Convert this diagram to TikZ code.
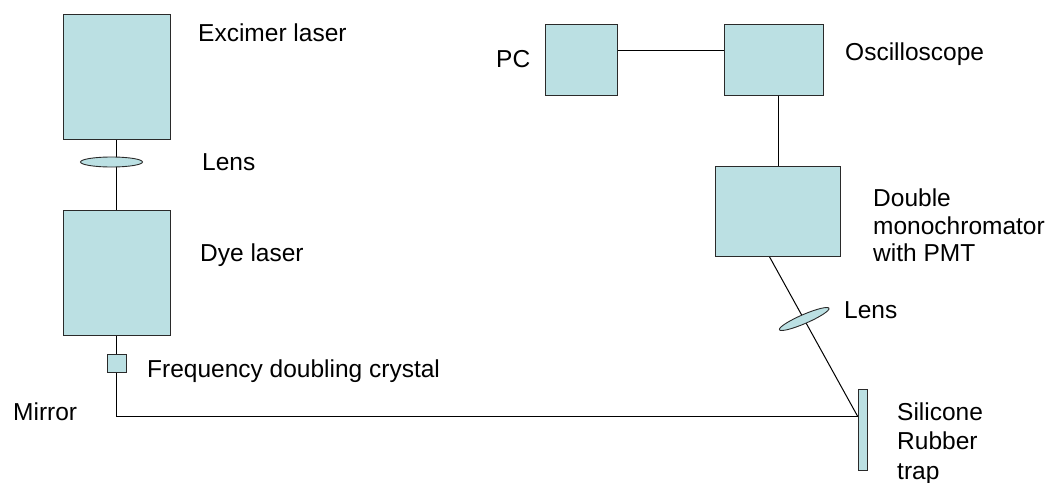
\documentclass[tikz,border=0pt]{standalone}
\usepackage{fontspec}
\setmainfont{Liberation Sans}
\usetikzlibrary{shapes.geometric, backgrounds}

\begin{document}
\begin{tikzpicture}[x=1pt, y=-1pt,
    box/.style={draw=borderColour, fill=fillColour, line width=0.9pt, inner sep=0pt},
    lens/.style={ellipse, draw=borderColour, fill=fillColour, line width=0.9pt, inner sep=0pt},
    txt/.style={anchor=base west, inner sep=0pt, font=\fontsize{24.5}{28}\selectfont},
    beam/.style={line width=1pt}]

    \definecolor{borderColour}{HTML}{2A2A2A}
    \definecolor{fillColour}{HTML}{BBE0E3}

    % Fix the page size
    \useasboundingbox (0,0) rectangle (1051,482);

    % Draw the instrument boxes
    \node[box, minimum width=107pt, minimum height=125pt] (excimer) at (116.5,76.5) {};
    \node[box, minimum width=107pt, minimum height=125pt] (dye) at (116.5,273.3) {};
    \node[box, minimum width=19pt, minimum height=18pt] (crystal) at (116.5,363) {};
    \node[box, minimum width=72pt, minimum height=71pt] (pc) at (581.3,59.5) {};
    \node[box, minimum width=99pt, minimum height=71pt] (osc) at (773.8,59.5) {};
    \node[box, minimum width=125pt, minimum height=90pt] (mono) at (778.3,211) {};
    \node[box, minimum width=9.4pt, minimum height=81pt] (trap) at (863,429.5) {};

    % Draw the lenses
    \node[lens, minimum width=62pt, minimum height=10pt] (lensA) at (111.5,162) {};
    \node[lens, minimum width=54pt, minimum height=9pt, rotate=23.4] (lensB) at (804.2,319) {};

    % Beam path and cables
    \coordinate (mirror) at (116.5,416.7);
    \coordinate (hit) at (trap.west |- mirror);
    \begin{scope}[on background layer]
        \draw[beam] (excimer) -- (dye);
        \draw[beam] (dye) -- (crystal);
        \draw[beam] (crystal) -- (mirror) -- (hit);
        \draw[beam] (hit) -- ([xshift=-9pt]mono.south);
        \draw[beam] (mono.north) -- (mono.north |- osc.south);
        \draw[beam] ([yshift=9.5pt]pc.east) -- ([yshift=9.5pt]osc.west);
    \end{scope}

    % Labels
    \node[txt] (excimerLabel) at (198,41) {Excimer laser};
    \node[txt] (lensALabel) at (202,170) {Lens};
    \node[txt] (dyeLabel) at (200,261) {Dye laser};
    \node[txt] (crystalLabel) at (147,377) {Frequency doubling crystal};
    \node[txt] (mirrorLabel) at (13,420) {Mirror};
    \node[txt] (pcLabel) at (496,67) {PC};
    \node[txt] (oscLabel) at (845,60) {Oscilloscope};
    \node[txt, anchor=north west, align=left, font=\fontsize{24.5}{27.5}\selectfont] (monoLabel) at (873,189) {Double\\monochromator\\with PMT};
    \node[txt] (lensBLabel) at (844,318) {Lens};
    \node[txt, anchor=north west, align=left, font=\fontsize{24.5}{29.5}\selectfont] (trapLabel) at (897,402.5) {Silicone\\Rubber\\trap};

\end{tikzpicture}
\end{document}
